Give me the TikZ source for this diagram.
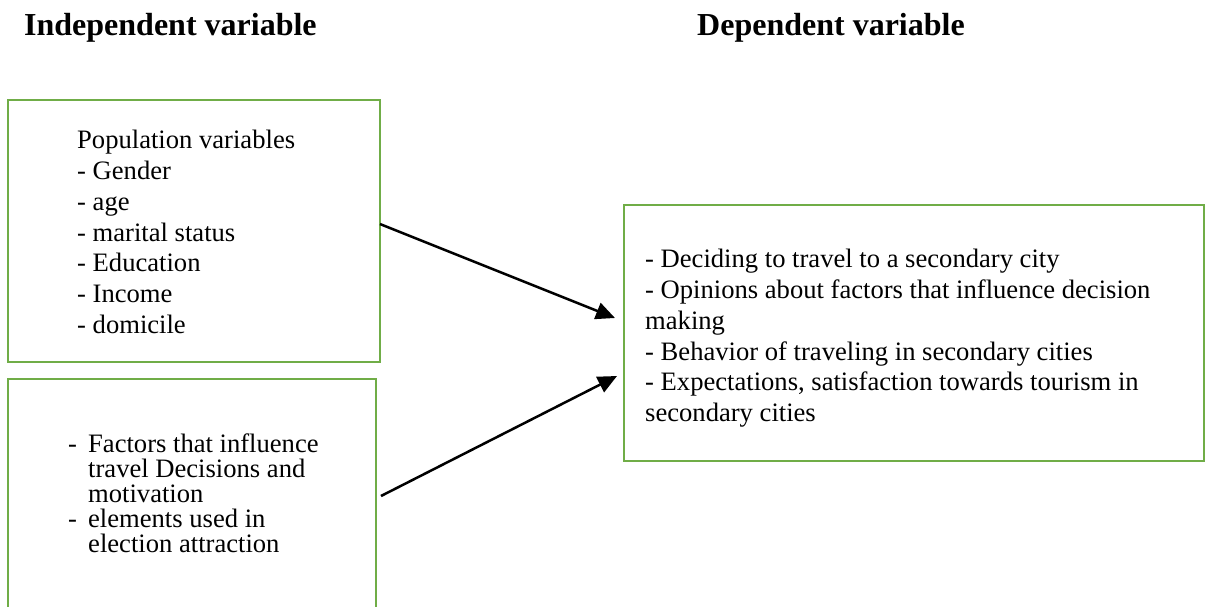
\documentclass[tikz,border=0pt]{standalone}
\usepackage{fontspec}
\setmainfont{Liberation Serif}
\usetikzlibrary{arrows.meta}
\definecolor{boxgreen}{RGB}{112,173,71}

\begin{document}
\begin{tikzpicture}[x=1pt, y=-1pt,
    varbox/.style={draw=boxgreen, line width=2.5pt, anchor=north west, inner sep=0pt, outer sep=0pt},
    vartext/.style={anchor=north west, inner sep=0pt, align=left, font=\fontsize{26.6}{30.8}\selectfont},
    heading/.style={anchor=base west, inner sep=0pt, font=\fontsize{32}{36}\selectfont\bfseries},
    link/.style={line width=2.5pt, -{Triangle[length=19pt,width=17pt]}}]
    \useasboundingbox (0,0) rectangle (1205,606);
    \node[heading] (indep) at (24,35) {Independent variable};
    \node[heading] (dep) at (697,35) {Dependent variable};
    % boxes
    \node[varbox, minimum width=372pt, minimum height=262pt] (popbox) at (8,100) {};
    \node[varbox, minimum width=368pt, minimum height=240pt] (factbox) at (8,379) {};
    \node[varbox, minimum width=580pt, minimum height=256pt] (depbox) at (624,205) {};
    % texts
    \node[vartext] (poptext) at (77,130) {Population variables\\- Gender\\- age\\- marital status\\- Education\\- Income\\- domicile};
    \node[vartext, font=\fontsize{26.6}{25}\selectfont] (facttext) at (68,434) {\makebox[20pt][l]{-}Factors that influence\\
        \hspace*{20pt}travel Decisions and\\
        \hspace*{20pt}motivation\\
        \makebox[20pt][l]{-}elements used in\\
        \hspace*{20pt}election attraction};
    \node[vartext] (deptext) at (645,249) {- Deciding to travel to a secondary city\\
        - Opinions about factors that influence decision\\
        making\\
        - Behavior of traveling in secondary cities\\
        - Expectations, satisfaction towards tourism in\\
        secondary cities};
    % arrows
    \draw[link] ([yshift=7pt]popbox.east) -- ([xshift=-9pt,yshift=15pt]depbox.west);
    \draw[link] ([xshift=5pt,yshift=3pt]factbox.east) -- ([xshift=-7pt,yshift=-43pt]depbox.west);
\end{tikzpicture}
\end{document}
